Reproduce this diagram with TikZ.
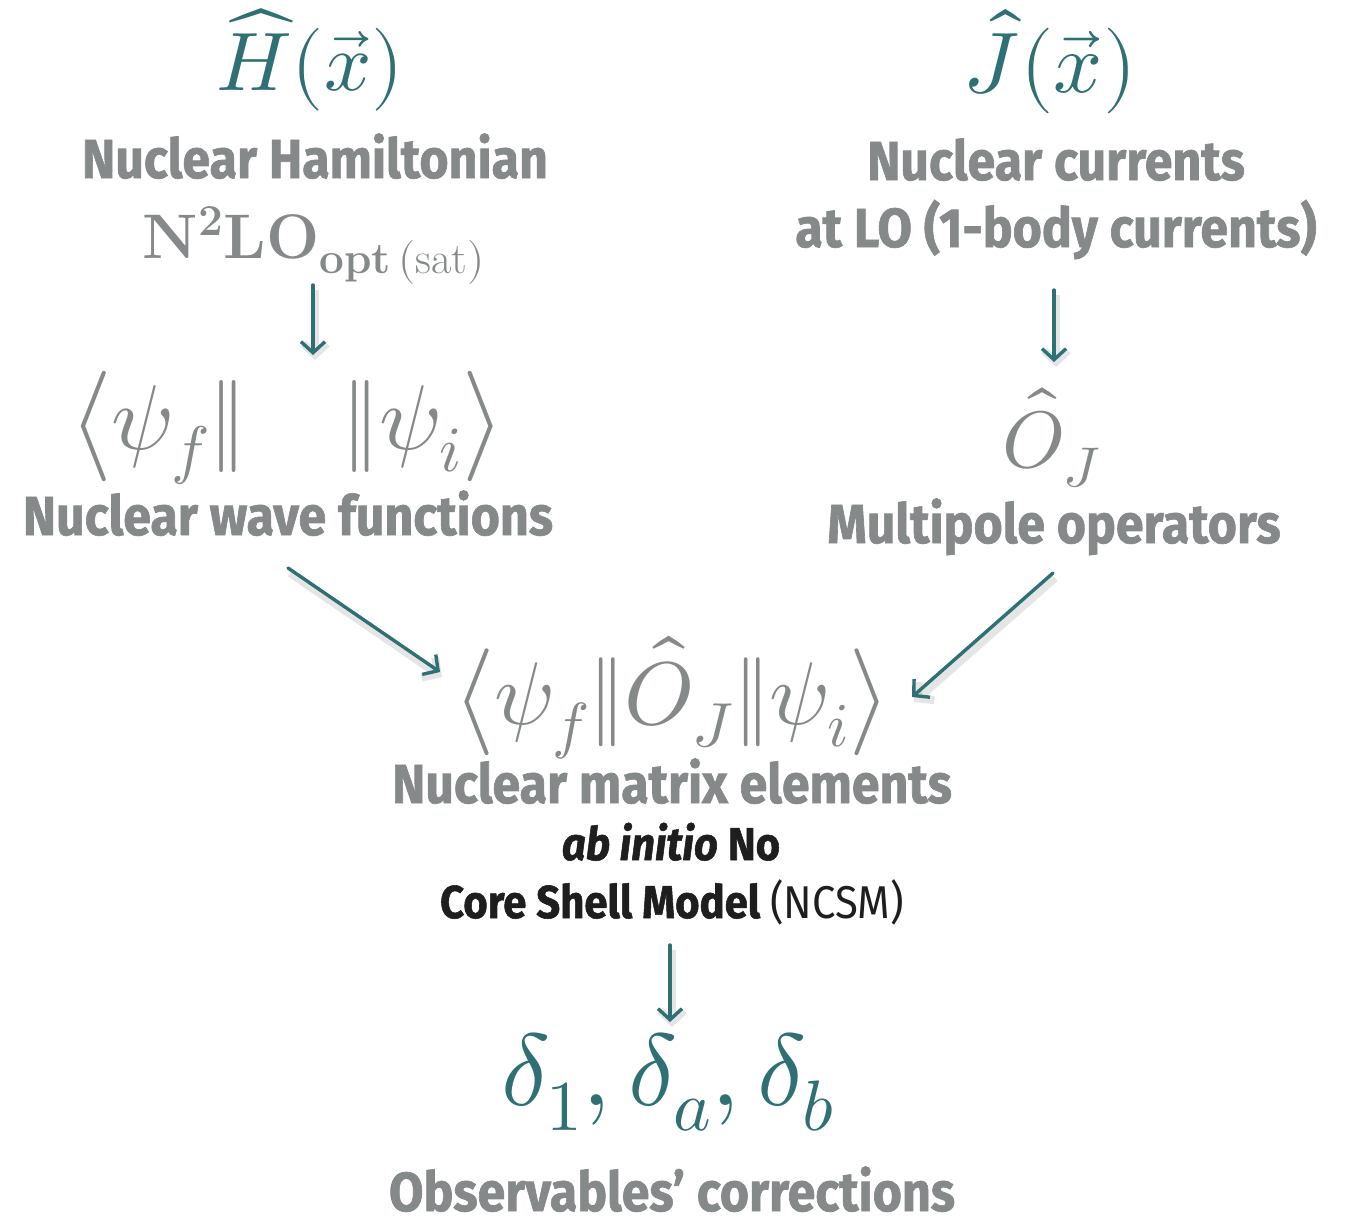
\documentclass[tikz,border=0pt]{standalone}
\usepackage{amsmath,amssymb}
\usepackage{fontspec}
\usepackage{unicode-math}
\usepackage{tikz}
\usetikzlibrary{arrows.meta,calc,positioning}
\usepackage{xcolor}
\newfontfamily\labelfont[FakeStretch=0.91,BoldFeatures={FakeBold=1.2},
  BoldItalicFeatures={FakeBold=1.2}]{Fira Sans}
\definecolor{teal}{HTML}{2E7074}
\definecolor{labelgray}{HTML}{86898A}
\definecolor{ink}{HTML}{1E1E1E}

\begin{document}
\begin{tikzpicture}[x=1pt,y=-1pt,
  lbl/.style={text=labelgray,anchor=base,inner sep=0pt,
    font=\labelfont\bfseries\fontsize{55}{60}\selectfont},
  eq/.style={inner sep=0pt,font=\fontsize{80}{96}\selectfont},
  flow/.style={draw=teal,line width=3.4pt,line cap=round,
    -{Straight Barb[length=11pt,width=24pt]},
    preaction={draw=black,opacity=.10,line width=8pt,
      transform canvas={shift={(2pt,-5pt)}}}}]
  \useasboundingbox (0,0) rectangle (1348,1223);

  % inputs
  \node[eq,text=teal,font=\fontsize{83}{100}\selectfont] (ham) at (310,60)
    {$\widehat{H}(\vec{x})$};
  \node[lbl] (hamlab) at (315,178) {Nuclear Hamiltonian};
  \node[anchor=base,inner sep=0pt,text=labelgray,font=\fontsize{63}{70}\selectfont]
    (chiral) at (314,258) {$\mathbf{N}^{\mathbf{2}}\mathbf{LO}_{\mathbf{opt}\,\mathrm{(sat)}}$};
  \node[eq,text=teal,font=\fontsize{86}{100}\selectfont] (cur) at (1050,62)
    {$\hat{J}(\vec{x})$};
  \node[lbl] (curlab) at (1056,180) {Nuclear currents};
  \node[lbl] (curlo) at (1056,247) {at LO (1-body currents)};

  % wave functions and operators
  \node[eq,text=labelgray,font=\fontsize{92}{110}\selectfont] (wave) at (287,428)
    {$\bigl\langle\psi_f\|\hspace{1.05em}\|\psi_i\bigr\rangle$};
  \node[lbl] (wavelab) at (288,535) {Nuclear wave functions};
  \node[eq,text=labelgray] (oper) at (1052,438) {$\hat{O}_J$};
  \node[lbl] (operlab) at (1054,543) {Multipole operators};

  % matrix elements
  \node[eq,text=labelgray,font=\fontsize{89}{104}\selectfont] (mel) at (672,698)
    {$\bigl\langle\psi_f\|\hat{O}_J\|\psi_i\bigr\rangle$};
  \node[lbl] (mellab) at (672,803) {Nuclear matrix elements};
  \node[lbl,text=ink,font=\labelfont\bfseries\fontsize{46}{52}\selectfont]
    (ncsm1) at (671,860) {\itshape ab initio\upshape{} No};
  \node[lbl,text=ink,font=\labelfont\bfseries\fontsize{46}{52}\selectfont]
    (ncsm2) at (672,918) {Core Shell Model \mdseries(NCSM)};

  % observables
  \node[eq,text=teal,font=\fontsize{102}{120}\selectfont] (corr) at (668,1082)
    {$\delta_1,\delta_a,\delta_b$};
  \node[lbl] (corrlab) at (672,1211) {Observables’ corrections};

  \coordinate (w0) at (288,568);
  \coordinate (w1) at (440,672);
  \coordinate (o0) at (1053,573);
  \coordinate (o1) at (912,697);

  \draw[flow] (313,285) -- (313,355);
  \draw[flow] (1054,290) -- (1054,362);
  \draw[flow] (w0) -- (w1);
  \draw[flow] (o0) -- (o1);
  \draw[flow] (670,945) -- (670,1022);
\end{tikzpicture}
\end{document}
